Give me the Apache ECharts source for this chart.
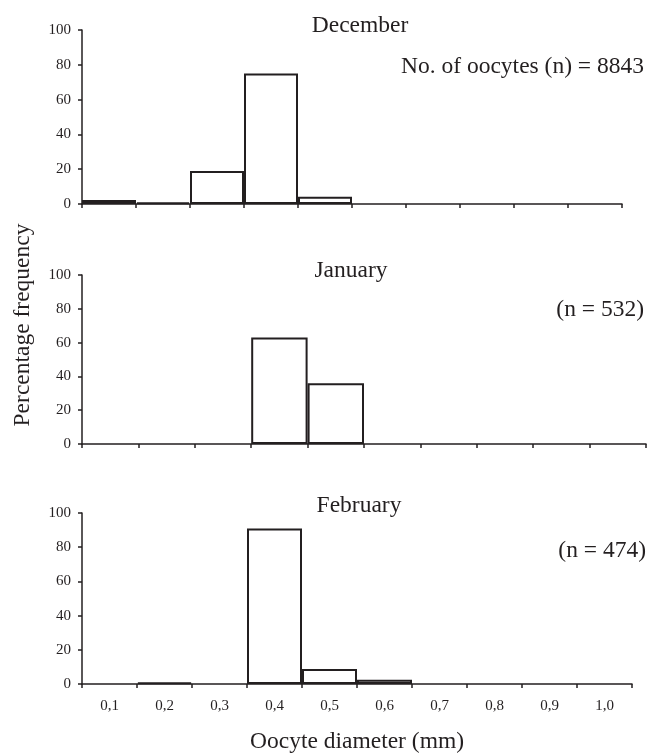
<!DOCTYPE html>
<html>
<head>
<meta charset="utf-8">
<script src="https://cdn.jsdelivr.net/npm/echarts@6/dist/echarts.min.js"></script>
<style>
  html, body { margin: 0; padding: 0; background: #fff; }
  #chart { width: 648px; height: 755px; }
</style>
</head>
<body>
<div id="chart"></div>
<script>
// oocyte diameter classes (mm)
const diameters = ['0,1', '0,2', '0,3', '0,4', '0,5', '0,6', '0,7', '0,8', '0,9', '1,0']
const yTicks = [0, 20, 40, 60, 80, 100]

// percentage frequency per month
const december = [2.3, 1, 19, 75, 4.2, 0, 0, 0, 0, 0]
const january = [0, 0, 0, 63, 36, 0, 0, 0, 0, 0]
const february = [0, 1, 0, 91, 8.7, 2.5, 0, 0, 0, 0]

const months = ['December', 'January', 'February']
const notes = ['No. of oocytes (n) = 8843', '(n = 532)', '(n = 474)']

const FONT = 'Liberation Serif'
const INK = '#231f20'

// each month gets its own panel
const grids = [
  { left: 82, right: 26, top: 30, height: 174 },
  { left: 82, right: 2, top: 275, height: 169 },
  { left: 82, right: 16, top: 513, height: 173 }
]

const chart = echarts.init(document.getElementById('chart'))

const xAxes = grids.map((g, i) => ({
  type: 'category',
  gridIndex: i,
  data: diameters,
  boundaryGap: true,
  axisLine: { lineStyle: { color: INK, width: 1.5 } },
  axisTick: { show: true, length: 4, inside: false, lineStyle: { color: INK, width: 1.5 } },
  axisLabel: {
    show: i === 2,
    fontFamily: FONT, fontSize: 15, color: INK, margin: 15
  },
  name: i === 2 ? 'Oocyte diameter (mm)' : '',
  nameLocation: 'middle',
  nameGap: 46,
  nameTextStyle: { fontFamily: FONT, fontSize: 23.5, color: INK }
}))

const yAxes = grids.map((g, i) => ({
  type: 'value',
  gridIndex: i,
  min: 0,
  max: 100,
  interval: 20,
  splitLine: { show: false },
  axisLine: { show: true, lineStyle: { color: INK, width: 1.5 } },
  axisTick: { show: true, length: 4, lineStyle: { color: INK, width: 1.5 } },
  axisLabel: {
    fontFamily: FONT, fontSize: 15, color: INK, margin: 11,
    formatter: v => yTicks.includes(v) ? String(v) : ''
  }
}))

const seriesData = [december, january, february]

// text anchor points
const monthPos = [[360, 26], [351, 271], [359, 506]]
const notePos = [[644, 67], [644, 310], [646, 551]]

const txt = (text, x, y, align, extra) => ({
  type: 'text',
  x, y,
  style: Object.assign({
    text, fontFamily: FONT, fontSize: 23.5, fill: INK,
    align, verticalAlign: 'middle'
  }, extra)
})

chart.setOption({
  animation: false,
  backgroundColor: '#fff',
  graphic: [
    ...months.map((m, i) => txt(m, monthPos[i][0], monthPos[i][1], 'center')),
    ...notes.map((n, i) => txt(n, notePos[i][0], notePos[i][1], 'right')),
    Object.assign(txt('Percentage frequency', 23, 325, 'center'), { rotation: Math.PI / 2 })
  ],
  grid: grids,
  xAxis: xAxes,
  yAxis: yAxes,
  series: seriesData.map((d, i) => ({
    type: 'bar',
    xAxisIndex: i,
    yAxisIndex: i,
    data: d.map(v => v === 0 ? '-' : v),
    barCategoryGap: 0,
    itemStyle: { color: '#fff', borderColor: INK, borderWidth: 2 }
  }))
})

window.addEventListener('resize', () => chart.resize())
</script>
</body>
</html>
